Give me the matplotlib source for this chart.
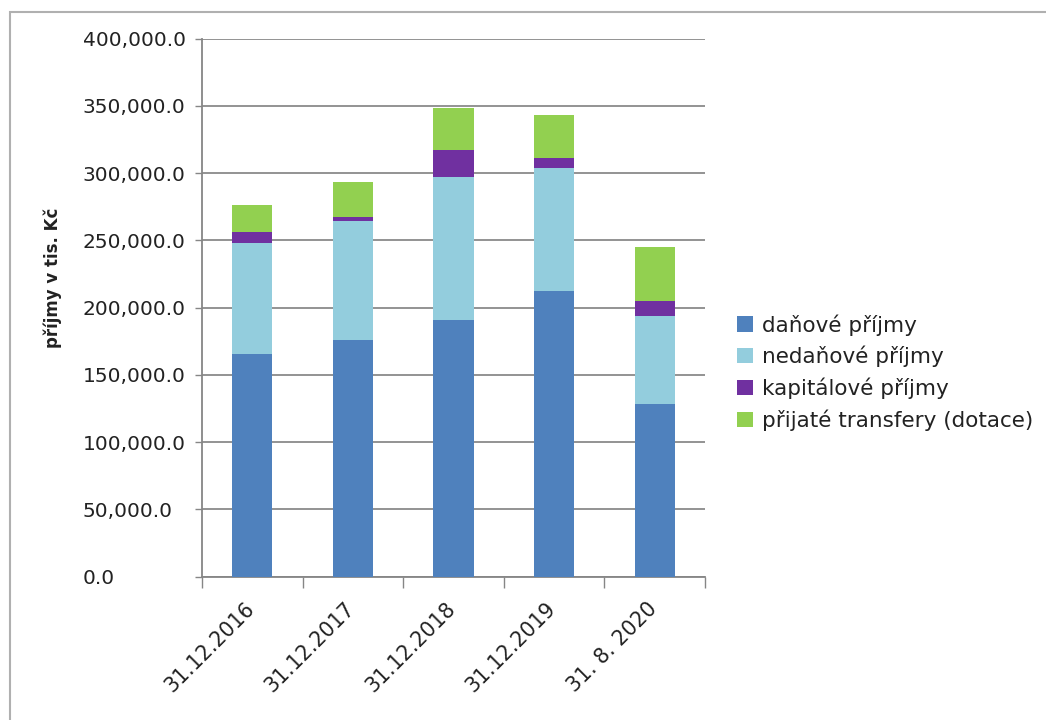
import matplotlib
matplotlib.use("Agg")
import matplotlib.pyplot as plt
import matplotlib.transforms as mtransforms
import numpy as np
from matplotlib.patches import Rectangle

categories = ["31.12.2016", "31.12.2017", "31.12.2018", "31.12.2019", "31. 8. 2020"]
danove = [165.9, 176.3, 190.7, 212.5, 128.1]
nedanove = [82.4, 88.2, 106.7, 91.6, 65.6]
kapitalove = [7.7, 2.7, 19.9, 7.3, 11.1]
transfery = [20.4, 26.1, 31.1, 31.5, 40.0]
series_names = ["daňové příjmy", "nedaňové příjmy", "kapitálové příjmy", "přijaté transfery (dotace)"]
colors = ["#4F81BD", "#93CDDD", "#7030A0", "#92D050"]
y_ticks = [0, 50000, 100000, 150000, 200000, 250000, 300000, 350000, 400000]
y_label = "příjmy v tis. Kč"

plt.rcParams['font.family'] = ['DejaVu Sans']

W, H = 1046, 720
fig = plt.figure(figsize=(W / 100, H / 100), dpi=100)
ax = fig.add_axes([202 / W, 1 - 576.6 / H, (705 - 202) / W, (576.6 - 38.7) / H])

data = [np.array(s) * 1000 for s in (danove, nedanove, kapitalove, transfery)]
x = np.arange(len(categories))
bottom = np.zeros(len(categories))
handles = []
for vals, c, name in zip(data, colors, series_names):
    h = ax.bar(x, vals, width=0.4, bottom=bottom, color=c, label=name, zorder=3)
    handles.append(h)
    bottom += vals

ax.set_xlim(-0.5, len(categories) - 0.5)
ax.set_ylim(0, 400000)
ax.set_yticks(y_ticks)
ax.set_yticklabels([f"{v:,.1f}" for v in y_ticks])
for lab in ax.get_yticklabels():
    lab.set_horizontalalignment('left')
ax.tick_params(axis='y', length=5, width=1, color='#868686', pad=81, labelsize=14.5, labelcolor='#222222')
ax.yaxis.grid(True, color='#8a8a8a', linewidth=1.3, zorder=0)

ax.set_xticks(x)
ax.set_xticklabels(categories, rotation=45, ha='right', va='top', fontsize=14.8, color='#222222')
ax.set_xticks(np.arange(-0.5, len(categories)), minor=True)
ax.tick_params(axis='x', which='major', length=0, pad=16)
ax.tick_params(axis='x', which='minor', length=8, width=1, color='#868686')
shift = mtransforms.ScaledTranslation(6 / 100, 0, fig.dpi_scale_trans)
for lab in ax.get_xticklabels():
    lab.set_transform(lab.get_transform() + shift)

for s in ['top', 'right']:
    ax.spines[s].set_visible(False)
for s in ['left', 'bottom']:
    ax.spines[s].set_color('#868686')
    ax.spines[s].set_linewidth(1.3)

fig.text(53 / W, 1 - 278 / H, y_label, rotation=90, ha='center', va='center',
         fontsize=12, fontweight='bold', color='#222222')

leg = fig.legend(handles=handles, labels=series_names, loc='upper left',
                 bbox_to_anchor=(737 / W, 1 - 314 / H), frameon=False, fontsize=15.5,
                 handlelength=0.72, handleheight=0.72, handletextpad=0.45,
                 labelspacing=0.48, borderaxespad=0, borderpad=0)
for t in leg.get_texts():
    t.set_color('#222222')

fig.patches.append(Rectangle((10 / W, -0.1), 1.2, 1 - 12 / H + 0.1, transform=fig.transFigure,
                             fill=False, edgecolor='#b0b0b0', linewidth=1.5))

fig.savefig("out.png", dpi=100)
